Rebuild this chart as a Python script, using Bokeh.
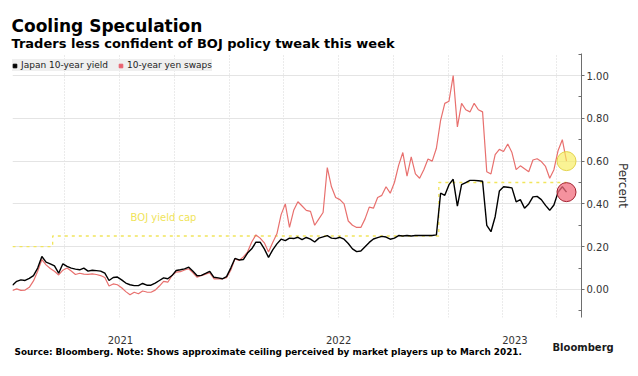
import pandas as pd
from bokeh.plotting import figure
from bokeh.models import (Range1d, ColumnDataSource, Label, Legend, LegendItem, FixedTicker,
                          DatetimeTickFormatter, NumeralTickFormatter)
from bokeh.embed import file_html
from bokeh.resources import INLINE

# ---------------- data (weekly readings, starting 2021-01-04) ----------------
start_date = "2021-01-04"
yield_10y = [
    0.020, 0.038, 0.045, 0.042, 0.052, 0.065, 0.100, 0.154, 0.128, 0.120,
    0.110, 0.076, 0.120, 0.108, 0.100, 0.095, 0.092, 0.100, 0.086, 0.090,
    0.088, 0.086, 0.076, 0.042, 0.056, 0.058, 0.045, 0.030, 0.022, 0.018,
    0.018, 0.028, 0.020, 0.020, 0.030, 0.042, 0.054, 0.050, 0.065, 0.089,
    0.092, 0.096, 0.104, 0.085, 0.064, 0.066, 0.075, 0.085, 0.057, 0.054,
    0.050, 0.060, 0.100, 0.145, 0.138, 0.140, 0.170, 0.190, 0.221, 0.221,
    0.190, 0.150, 0.185, 0.213, 0.235, 0.228, 0.240, 0.238, 0.244, 0.233,
    0.243, 0.235, 0.222, 0.240, 0.246, 0.252, 0.240, 0.238, 0.244, 0.235,
    0.215, 0.190, 0.177, 0.180, 0.200, 0.220, 0.236, 0.242, 0.248, 0.245,
    0.235, 0.240, 0.252, 0.250, 0.252, 0.250, 0.252, 0.252, 0.252, 0.252,
    0.252, 0.255, 0.450, 0.440, 0.490, 0.515, 0.390, 0.490, 0.500, 0.510,
    0.510, 0.508, 0.506, 0.300, 0.270, 0.340, 0.460, 0.480, 0.478, 0.475,
    0.410, 0.420, 0.380, 0.400, 0.433, 0.435, 0.420, 0.393, 0.370, 0.395,
    0.455, 0.480, 0.455,
]
swap_10y = [
    -0.005, 0.003, -0.004, -0.003, 0.010, 0.040, 0.085, 0.140, 0.115, 0.098,
    0.085, 0.068, 0.090, 0.100, 0.086, 0.070, 0.076, 0.072, 0.071, 0.073,
    0.070, 0.065, 0.056, 0.016, 0.026, 0.022, 0.008, -0.010, -0.025, -0.013,
    -0.020, -0.007, -0.012, -0.013, -0.003, 0.016, 0.038, 0.034, 0.065, 0.081,
    0.083, 0.091, 0.097, 0.078, 0.057, 0.065, 0.072, 0.078, 0.050, 0.050,
    0.050, 0.055, 0.090, 0.143, 0.136, 0.152, 0.175, 0.222, 0.255, 0.240,
    0.218, 0.175, 0.220, 0.260, 0.350, 0.400, 0.290, 0.370, 0.410, 0.390,
    0.370, 0.365, 0.300, 0.330, 0.360, 0.570, 0.480, 0.430, 0.420, 0.400,
    0.320, 0.300, 0.290, 0.290, 0.330, 0.385, 0.380, 0.430, 0.440, 0.480,
    0.450, 0.500, 0.580, 0.640, 0.530, 0.620, 0.540, 0.520, 0.560, 0.610,
    0.600, 0.660, 0.790, 0.870, 0.880, 1.000, 0.760, 0.870, 0.840, 0.830,
    0.870, 0.840, 0.830, 0.550, 0.540, 0.630, 0.655, 0.645, 0.680, 0.640,
    0.560, 0.578, 0.564, 0.550, 0.605, 0.611, 0.598, 0.575, 0.520, 0.560,
    0.650, 0.700, 0.600,
]
cap_dates = ["2021-01-04", "2021-03-12", "2021-03-12", "2022-12-16", "2022-12-16", "2023-07-17"]
cap_values = [0.20, 0.20, 0.25, 0.25, 0.50, 0.50]

year_labels = ["2021", "2022", "2023"]
year_label_dates = ["2021-07-03", "2022-07-02", "2023-04-22"]
quarter_dates = ["2021-04-01", "2021-07-01", "2021-10-01", "2022-01-01", "2022-04-01",
                 "2022-07-01", "2022-10-01", "2023-01-01", "2023-04-01", "2023-07-01"]
y_ticks = [0.0, 0.2, 0.4, 0.6, 0.8, 1.0]
y_minor = [-0.1, 0.1, 0.3, 0.5, 0.7, 0.9, 1.1]

# ---------------- helpers ----------------
def ms(d):
    return float(pd.Timestamp(d).value // 10**6)

dates = pd.date_range(start_date, periods=len(yield_10y), freq="7D")
src = ColumnDataSource(dict(date=dates, yld=yield_10y, swp=swap_10y))
cap_src = ColumnDataSource(dict(date=pd.to_datetime(cap_dates), v=cap_values))

FONT = "DejaVu Sans"

p = figure(width=638, height=376, x_axis_type="datetime", y_axis_location="right",
           x_range=Range1d(pd.Timestamp("2021-01-04"), pd.Timestamp("2023-08-11")),
           y_range=Range1d(-0.131, 1.103), title_location=None,
           output_backend="svg", toolbar_location=None,
           min_border_left=12, min_border_right=57, min_border_top=53, min_border_bottom=59)
p.outline_line_color = None
p.background_fill_color = "white"
p.border_fill_color = "white"

# grids
p.xgrid.ticker = FixedTicker(ticks=[ms(d) for d in quarter_dates])
p.xgrid.grid_line_color = "#d6d6d6"
p.xgrid.grid_line_dash = "1 2"
p.ygrid.ticker = FixedTicker(ticks=y_ticks)
p.ygrid.grid_line_color = "#e4e4e4"

# x axis
xa = p.xaxis[0]
xa.ticker = FixedTicker(ticks=[ms(d) for d in year_label_dates])
xa.formatter = DatetimeTickFormatter(years="%Y", months="%Y", days="%Y", hours="%Y")
xa.axis_line_color = None
xa.major_tick_line_color = None
xa.minor_tick_line_color = None
xa.major_label_standoff = 12
xa.major_label_text_font = FONT
xa.major_label_text_font_size = "10px"
xa.major_label_text_color = "#333333"

# y axis
ya = p.yaxis[0]
ya.ticker = FixedTicker(ticks=y_ticks, minor_ticks=y_minor)
ya.formatter = NumeralTickFormatter(format="0.00")
ya.axis_line_color = "#6e6e6e"
ya.major_tick_line_color = "#6e6e6e"
ya.minor_tick_line_color = "#6e6e6e"
ya.major_tick_out = 3
ya.major_tick_in = 0
ya.minor_tick_out = 0
ya.minor_tick_in = 3
ya.major_label_standoff = 2
ya.major_label_text_font = FONT
ya.major_label_text_font_size = "10px"
ya.major_label_text_color = "#333333"
ya.axis_label = "Percent"
ya.axis_label_standoff = 4
ya.axis_label_text_font = FONT
ya.axis_label_text_font_size = "12px"
ya.axis_label_text_font_style = "normal"
ya.axis_label_text_color = "#333333"

# series
p.line("date", "v", source=cap_src, line_color="#f1e55c", line_width=1.3, line_dash="3 4")
r_swp = p.line("date", "swp", source=src, line_color="#e8706e", line_width=1.2)
r_yld = p.line("date", "yld", source=src, line_color="#000000", line_width=1.4)

last = dates[-1]
p.scatter([last], [swap_10y[-1]], size=19, fill_color="#f8ec5a", fill_alpha=0.65,
          line_color="#e3d34a", line_width=1)
p.scatter([last], [yield_10y[-1]], size=19, fill_color="#f26d7d", fill_alpha=0.75,
          line_color="#a3202e", line_width=1)

p.add_layout(Label(x=pd.Timestamp("2021-07-20"), y=0.336, text="BOJ yield cap",
                   text_color="#f0e45a", text_font=FONT, text_font_size="10px",
                   text_baseline="middle", text_align="left"))

# legend (square markers; sources hold one point far outside the visible range)
sq_src = ColumnDataSource(dict(x=[pd.Timestamp("2019-01-01")], y=[-5.0]))
lg1 = p.scatter("x", "y", source=sq_src, marker="square", size=7, color="#000000")
lg2 = p.scatter("x", "y", source=sq_src, marker="square", size=7, color="#e8606e")
legend = Legend(items=[LegendItem(label="Japan 10-year yield", renderers=[lg1]),
                       LegendItem(label="10-year yen swaps", renderers=[lg2])],
                location=(-2, 246), orientation="horizontal",
                background_fill_color="#efefef", background_fill_alpha=1.0,
                border_line_color=None, label_text_font=FONT, label_text_font_size="9px",
                label_text_color="#222222", glyph_width=9, glyph_height=9,
                label_standoff=2, spacing=8, padding=4, margin=0,
                label_height=12)
p.add_layout(legend)

# texts outside the frame, in canvas coordinates, hosted by side panels
def side_label(place, text, x, y, size, bold=False, color="#000000"):
    p.add_layout(Label(x=x, y=y, x_units="canvas", y_units="canvas", text=text,
                       text_font=FONT, text_font_size=size,
                       text_font_style="bold" if bold else "normal",
                       text_color=color, text_align="left", text_baseline="alphabetic"),
                 place)

side_label("above", "Cooling Speculation", 11, 25, "17px", bold=True)
side_label("above", "Traders less confident of BOJ policy tweak this week", 11, 43, "13px", bold=True)
side_label("below", "Source: Bloomberg. Note: Shows approximate ceiling perceived by market players up to March 2021.",
           14, 351, "8.9px", bold=True)
side_label("below", "Bloomberg", 552, 347, "10px", bold=True, color="#1a1a1a")

open("out.html", "w").write(file_html(p, INLINE))
